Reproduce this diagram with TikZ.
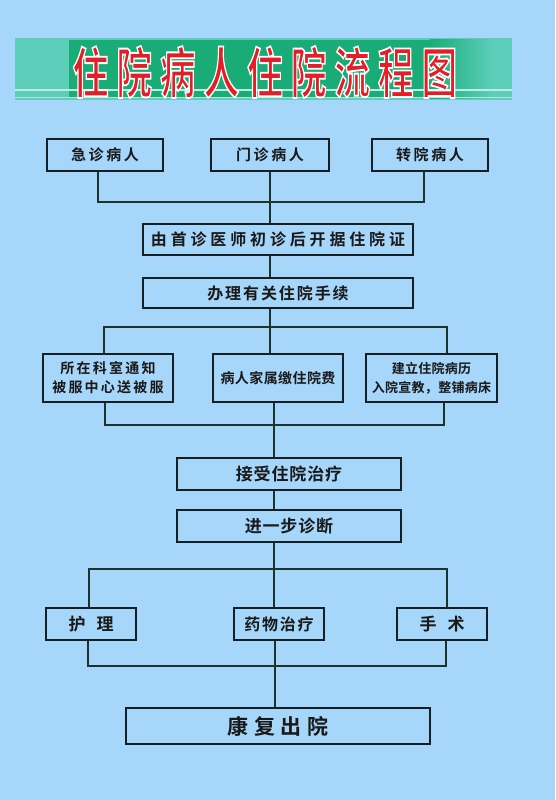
\documentclass[tikz,border=0pt]{standalone}
\usepackage{fontspec}
\usepackage{tikz}
\newfontfamily\hei{Noto Sans CJK SC Bold}
\definecolor{bgblue}{RGB}{166,214,250}
\definecolor{boxline}{RGB}{22,32,36}
\definecolor{linkline}{RGB}{28,50,42}
\definecolor{bannerteal}{RGB}{92,206,186}
\definecolor{bannergreen}{RGB}{26,172,118}
\definecolor{titlered}{RGB}{228,30,38}
\newcommand{\ls}[1]{\addfontfeature{LetterSpace=#1}}
\newcommand{\outlined}[1]{\special{pdf:code q 2 Tr 1.8 w 1 1 1 RG}#1\special{pdf:code Q}}

\begin{document}
\begin{tikzpicture}[x=1pt,y=-1pt,
    box/.style={draw=boxline, line width=1.6pt, inner sep=0pt, align=center, text=black!90},
    link/.style={draw=linkline, line width=1.4pt}]
  \fill[bgblue] (0,0) rectangle (555,800);
  % banner
  \fill[bannerteal] (15,38) rectangle (512,100);
  \fill[bannergreen] (69,40) rectangle (430,98);
  \shade[left color=bannergreen, right color=bannerteal] (430,40) rectangle (492,98);
  \draw[white!60!bannerteal, line width=1.5pt] (15,90) -- (512,90);
  \draw[white!50!bannerteal, line width=1pt] (15,97.5) -- (512,97.5);
  \node[text=titlered, inner sep=0pt, font=\hei\fontsize{55}{55}\selectfont\ls{22}] (title) at (265,72)
    {\scalebox{0.65}[1]{\outlined{住院病人住院流程图}}};

  % boxes
  \node[box, minimum width=116, minimum height=32, font=\hei\fontsize{15}{15}\selectfont\ls{17}] (jz) at (105,155) {急诊病人};
  \node[box, minimum width=118, minimum height=32, font=\hei\fontsize{15}{15}\selectfont\ls{17}] (mz) at (270,155) {门诊病人};
  \node[box, minimum width=116, minimum height=32, font=\hei\fontsize{15}{15}\selectfont\ls{17}] (zy) at (430,155) {转院病人};
  \node[box, minimum width=270, minimum height=31, font=\hei\fontsize{16}{16}\selectfont\ls{24}] (kz) at (278,239.5) {由首诊医师初诊后开据住院证};
  \node[box, minimum width=270, minimum height=30, font=\hei\fontsize{16}{16}\selectfont\ls{12}] (bl) at (278,293) {办理有关住院手续};
  \node[box, minimum width=130, minimum height=48, font=\hei\fontsize{14}{19}\selectfont\ls{16}] (tz) at (108,378) {所在科室通知\\被服中心送被服};
  \node[box, minimum width=130, minimum height=48, font=\hei\fontsize{14}{19}\selectfont\ls{3}] (jf) at (278,378) {病人家属缴住院费};
  \node[box, minimum width=131, minimum height=48, font=\hei\fontsize{13}{19}\selectfont\ls{2}] (bl2) at (431.5,378) {建立住院病历\\入院宣教，整铺病床};
  \node[box, minimum width=224, minimum height=32, font=\hei\fontsize{17}{17}\selectfont\ls{5}] (js) at (289,474) {接受住院治疗};
  \node[box, minimum width=224, minimum height=32, font=\hei\fontsize{17}{17}\selectfont\ls{5}] (zd) at (289,526) {进一步诊断};
  \node[box, minimum width=90, minimum height=32, font=\hei\fontsize{17}{17}\selectfont] (hl) at (91,624) {护\hspace{11pt}理};
  \node[box, minimum width=90, minimum height=32, font=\hei\fontsize{16}{16}\selectfont\ls{11}] (yw) at (279,624) {药物治疗};
  \node[box, minimum width=90, minimum height=32, font=\hei\fontsize{17}{17}\selectfont] (ss) at (442,624) {手\hspace{11pt}术};
  \node[box, minimum width=304, minimum height=36, font=\hei\fontsize{21}{21}\selectfont\ls{28}] (cy) at (278,726) {康复出院};

  % buses
  \coordinate (b1l) at (98,202);  \coordinate (b1r) at (424,202);
  \coordinate (b2l) at (104,327); \coordinate (b2r) at (447,327);
  \coordinate (b3l) at (105,425); \coordinate (b3m) at (274,425); \coordinate (b3r) at (444,425);
  \coordinate (b4l) at (89,569);  \coordinate (b4m) at (274,569); \coordinate (b4r) at (447,569);
  \coordinate (b5l) at (88,666);  \coordinate (b5m) at (275,666); \coordinate (b5r) at (446,666);

  % connectors
  \draw[link] (jz.south -| b1l) -- (b1l) -- (b1r) -- (zy.south -| b1r);
  \draw[link] (mz.south) -- (kz.north -| mz.south);
  \draw[link] (kz.south -| mz.south) -- (bl.north -| mz.south);
  \draw[link] (bl.south -| mz.south) -- (b2l -| mz.south);
  \draw[link] (tz.north -| b2l) -- (b2l) -- (b2r) -- (bl2.north -| b2r);
  \draw[link] (b2l -| mz.south) -- (jf.north -| mz.south);
  \draw[link] (tz.south -| b3l) -- (b3l) -- (b3r) -- (bl2.south -| b3r);
  \draw[link] (jf.south -| b3m) -- (js.north -| b3m);
  \draw[link] (js.south -| b3m) -- (zd.north -| b3m);
  \draw[link] (zd.south -| b4m) -- (b4m);
  \draw[link] (hl.north -| b4l) -- (b4l) -- (b4r) -- (ss.north -| b4r);
  \draw[link] (b4m) -- (yw.north -| b4m);
  \draw[link] (hl.south -| b5l) -- (b5l) -- (b5r) -- (ss.south -| b5r);
  \draw[link] (yw.south -| b5m) -- (cy.north -| b5m);
\end{tikzpicture}
\end{document}
